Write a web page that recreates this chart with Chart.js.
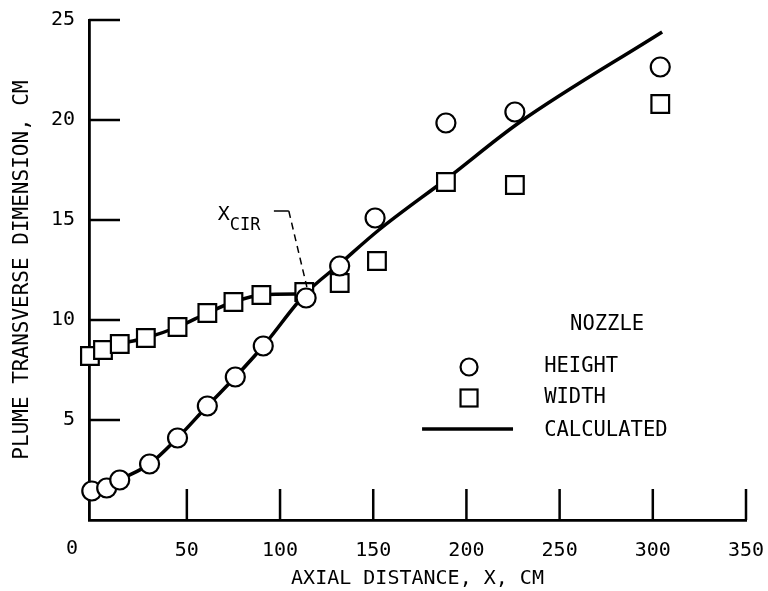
<!DOCTYPE html>
<html>
<head>
<meta charset="utf-8">
<script src="https://cdn.jsdelivr.net/npm/chart.js@4.4.1/dist/chart.umd.min.js"></script>
<style>
  html, body { margin: 0; padding: 0; background: #fff; }
  #wrap { width: 768px; height: 591px; }
</style>
</head>
<body>
<div id="wrap"><canvas id="plume_chart"></canvas></div>
<script>
// measured nozzle data (axial distance in cm)
var heightX = [-1, 7, 14, 30, 45, 61, 76, 91, 114, 132, 151, 189, 226, 304];
var heightY = [1.45, 1.6, 2.0, 2.8, 4.1, 5.7, 7.15, 8.7, 11.1, 12.7, 15.1, 19.85, 20.4, 22.65];
var widthX = [-2, 5, 14, 28, 45, 61, 75, 90, 113, 132, 152, 189, 226, 304];
var widthY = [8.2, 8.5, 8.8, 9.1, 9.65, 10.35, 10.9, 11.25, 11.4, 11.85, 12.95, 16.9, 16.75, 20.8];

// calculated curves
var calcHeightX = [-1, 7, 14, 30, 45, 61, 76, 91, 113.5, 132, 153, 190, 228, 305];
var calcHeightY = [1.45, 1.6, 2.0, 2.8, 4.1, 5.7, 7.15, 8.7, 11.3, 12.8, 14.5, 17.1, 19.85, 24.4];
var calcWidthX = [-2, 5, 14, 28, 45, 61, 75, 90, 113.5];
var calcWidthY = [8.2, 8.5, 8.8, 9.1, 9.65, 10.35, 10.9, 11.25, 11.3];

var xTicks = [0, 50, 100, 150, 200, 250, 300, 350];
var yTicks = [5, 10, 15, 20, 25];

var FONT = "'DejaVu Sans Mono', monospace";

function pts(xs, ys) {
    return xs.map(function(x, i){ return {x: x, y: ys[i]}; });
}

// tick marks point inward, legend and x_cir label sit inside the plot
var plumeDecor = {
    id: 'plumeDecor',
    afterDraw: function(chart) {
        var ctx = chart.ctx;
        var xs = chart.scales.x, ys = chart.scales.y;
        ctx.save();
        ctx.strokeStyle = '#000';
        ctx.lineWidth = 2.5;
        ctx.beginPath();
        xTicks.forEach(function(v){
            if (v === 0) return;
            var px = xs.getPixelForValue(v);
            ctx.moveTo(px, ys.bottom);
            ctx.lineTo(px, ys.bottom - 31);
        });
        yTicks.forEach(function(v){
            var py = ys.getPixelForValue(v);
            ctx.moveTo(xs.left, py);
            ctx.lineTo(xs.left + 31, py);
        });
        ctx.stroke();

        // origin label sits left of the axis
        ctx.fillStyle = '#000';
        ctx.font = '20px ' + FONT;
        ctx.textAlign = 'center';
        ctx.textBaseline = 'middle';
        ctx.fillText('0', xs.left - 17, ys.bottom + 29);

        // X_CIR marker
        ctx.font = '20px ' + FONT;
        ctx.textAlign = 'left';
        ctx.textBaseline = 'alphabetic';
        ctx.fillText('X', xs.getPixelForValue(66.6), ys.getPixelForValue(15.0));
        ctx.font = '17px ' + FONT;
        ctx.fillText('CIR', xs.getPixelForValue(73), ys.getPixelForValue(14.5));
        ctx.lineWidth = 1.5;
        ctx.beginPath();
        ctx.moveTo(xs.getPixelForValue(96.7), ys.getPixelForValue(15.45));
        ctx.lineTo(xs.getPixelForValue(104.7), ys.getPixelForValue(15.45));
        ctx.stroke();
        ctx.setLineDash([7, 5]);
        ctx.beginPath();
        ctx.moveTo(xs.getPixelForValue(104.7), ys.getPixelForValue(15.45));
        ctx.lineTo(xs.getPixelForValue(114.4), ys.getPixelForValue(11.65));
        ctx.stroke();
        ctx.setLineDash([]);

        // legend
        var lx = xs.getPixelForValue(201.4);
        var tx = xs.getPixelForValue(241.7);
        ctx.font = '20.5px ' + FONT;
        ctx.fillText('NOZZLE', xs.getPixelForValue(255.6), ys.getPixelForValue(9.5));
        ctx.fillText('HEIGHT', tx, ys.getPixelForValue(7.4));
        ctx.fillText('WIDTH', tx, ys.getPixelForValue(5.85));
        ctx.fillText('CALCULATED', tx, ys.getPixelForValue(4.2));
        ctx.lineWidth = 2.2;
        ctx.fillStyle = '#fff';
        ctx.beginPath();
        ctx.arc(lx, ys.getPixelForValue(7.65), 8.5, 0, Math.PI * 2);
        ctx.fill();
        ctx.stroke();
        var sy = ys.getPixelForValue(6.1);
        ctx.fillRect(lx - 8.5, sy - 8.5, 17, 17);
        ctx.strokeRect(lx - 8.5, sy - 8.5, 17, 17);
        ctx.lineWidth = 3.5;
        ctx.beginPath();
        ctx.moveTo(xs.getPixelForValue(176.2), ys.getPixelForValue(4.55));
        ctx.lineTo(xs.getPixelForValue(225), ys.getPixelForValue(4.55));
        ctx.stroke();
        ctx.restore();
    }
};

var lineStyle = {
    showLine: true,
    borderColor: '#000',
    borderWidth: 3.5,
    cubicInterpolationMode: 'monotone',
    pointRadius: 0,
    pointHoverRadius: 0,
    clip: false
};

// drop the automatic overhang padding so the plot box lands where the original is
function noOverhang(axis) {
    axis.paddingLeft = 0;
    axis.paddingRight = 0;
    axis.paddingTop = 0;
    axis.paddingBottom = 0;
}

const config_plume = {
    type: 'scatter',
    data: {
        datasets: [
        {
            label: 'HEIGHT',
            data: pts(heightX, heightY),
            pointStyle: 'circle',
            pointRadius: 9.5,
            pointBorderWidth: 2.2,
            pointBorderColor: '#000',
            pointBackgroundColor: '#fff',
            clip: false,
            order: 1
        },
        {
            label: 'WIDTH',
            data: pts(widthX, widthY),
            pointStyle: 'rect',
            pointRadius: 12.5,
            pointBorderWidth: 2.2,
            pointBorderColor: '#000',
            pointBackgroundColor: '#fff',
            clip: false,
            order: 1
        },
        Object.assign({label: 'CALCULATED', data: pts(calcHeightX, calcHeightY), order: 2}, lineStyle),
        Object.assign({label: 'CALCULATED width', data: pts(calcWidthX, calcWidthY), order: 2}, lineStyle)
        ]
    },
    options: {
        responsive: true,
        maintainAspectRatio: false,
        animation: false,
        events: [],
        layout: { autoPadding: false, padding: { top: 20, right: 22, left: 0, bottom: 0 } },
        plugins: {
            legend: { display: false },
            tooltip: { enabled: false }
        },
        scales: {
            x: {
                type: 'linear',
                min: -2.5,
                max: 350,
                afterBuildTicks: function(axis){
                    axis.ticks = xTicks.map(function(v){ return {value: v}; });
                },
                afterFit: function(axis){ axis.height = 71; noOverhang(axis); },
                grid: { display: false, drawTicks: false },
                border: { display: true, color: '#000', width: 2.8 },
                ticks: {
                    color: '#000',
                    padding: 19,
                    maxRotation: 0,
                    font: { family: FONT, size: 20 },
                    callback: function(v){ return v === 0 ? '' : v; }
                },
                title: {
                    display: true,
                    text: 'AXIAL DISTANCE, X, CM',
                    color: '#000',
                    font: { family: FONT, size: 20 },
                    padding: { top: 0, bottom: 0 }
                }
            },
            y: {
                type: 'linear',
                min: 0,
                max: 25,
                afterBuildTicks: function(axis){
                    axis.ticks = yTicks.map(function(v){ return {value: v}; });
                },
                afterFit: function(axis){ axis.width = 89; noOverhang(axis); },
                grid: { display: false, drawTicks: false },
                border: { display: true, color: '#000', width: 2.8 },
                ticks: {
                    color: '#000',
                    padding: 14,
                    font: { family: FONT, size: 20 }
                },
                title: {
                    display: true,
                    text: 'PLUME TRANSVERSE DIMENSION, CM',
                    color: '#000',
                    font: { family: FONT, size: 21 },
                    padding: { top: 10, bottom: 0 }
                }
            }
        }
    },
    plugins: [plumeDecor]
};

const plume_chart = new Chart(
    document.getElementById('plume_chart'),
    config_plume
);
</script>
</body>
</html>
